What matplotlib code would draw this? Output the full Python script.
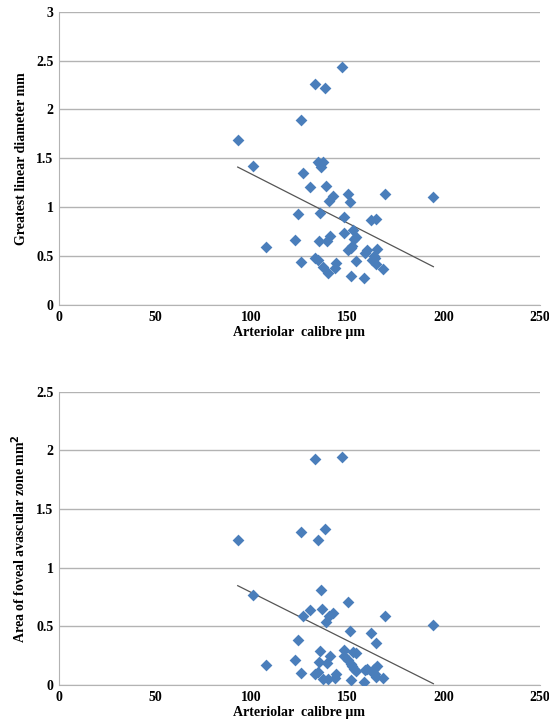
import numpy as np
import matplotlib.pyplot as plt
from matplotlib.ticker import FuncFormatter

# arteriolar calibre (um), same patients in both panels
calibre = [92.9, 100.9, 107.7, 122.8, 124.1, 125.9, 125.9, 126.8, 130.3, 133.2,
           133.2, 134.7, 135.0, 134.8, 135.9, 136.3, 135.7, 137.0, 137.2, 138.1,
           138.8, 139.2, 139.9, 140.5, 140.7, 142.3, 143.6, 143.9, 147.0, 148.0,
           148.3, 150.0, 150.0, 151.1, 151.6, 152.0, 152.3, 152.9, 153.4, 154.5,
           154.5, 158.7, 159.1, 160.0, 162.2, 162.7, 163.6, 164.0, 164.7, 164.7,
           165.1, 168.4, 169.5, 194.6]

diameter = [1.69, 1.42, 0.59, 0.66, 0.93, 1.89, 0.44, 1.35, 1.21, 2.26,
            0.48, 0.46, 0.65, 1.46, 1.44, 1.41, 0.94, 1.46, 0.39, 2.22,
            1.22, 0.65, 0.33, 1.06, 0.71, 1.11, 0.38, 0.43, 2.43, 0.90,
            0.74, 1.14, 0.56, 1.05, 0.58, 0.30, 0.60, 0.77, 0.68, 0.70,
            0.45, 0.28, 0.53, 0.56, 0.87, 0.46, 0.50, 0.48, 0.88, 0.42,
            0.57, 0.37, 1.14, 1.10]

area_calibre = [92.9, 100.9, 107.7, 122.8, 124.1, 125.9, 125.9, 126.8, 130.3, 133.2,
                133.2, 134.7, 135.0, 134.8, 135.9, 136.3, 136.6, 137.2, 138.1, 138.8,
                139.2, 139.9, 140.5, 140.7, 142.3, 143.6, 143.9, 147.0, 148.0, 148.3,
                150.0, 150.0, 151.1, 151.6, 152.0, 152.3, 152.9, 153.4, 154.5, 154.5,
                158.7, 159.1, 160.0, 162.2, 162.7, 163.6, 164.0, 164.7, 164.7, 165.1,
                168.4, 169.5, 194.6]

area = [1.24, 0.77, 0.17, 0.21, 0.38, 1.30, 0.10, 0.59, 0.64, 1.93,
        0.09, 0.11, 0.20, 1.24, 0.29, 0.81, 0.65, 0.05, 1.33, 0.54,
        0.19, 0.05, 0.59, 0.25, 0.61, 0.06, 0.09, 1.94, 0.30, 0.25,
        0.71, 0.21, 0.46, 0.18, 0.04, 0.16, 0.28, 0.14, 0.27, 0.12,
        0.03, 0.13, 0.14, 0.44, 0.11, 0.14, 0.09, 0.36, 0.07, 0.16,
        0.06, 0.59, 0.51]

plt.rcParams['font.family'] = ['Liberation Serif', 'DejaVu Serif']

fig = plt.figure(figsize=(5.49, 7.28), dpi=100)
ax1 = fig.add_axes([0.1075, 0.581, 0.876, 0.403])
ax2 = fig.add_axes([0.1075, 0.059, 0.876, 0.403])

blue = '#4a7ebb'
fmt = FuncFormatter(lambda v, p: '{:g}'.format(v))

def panel(ax, x, y, ymax, ylabel):
    ax.scatter(x, y, marker='D', s=36, color=blue, zorder=3, linewidths=0)
    # linear trendline
    k, b = np.polyfit(x, y, 1)
    xs = np.array([min(x), max(x)])
    ax.plot(xs, k * xs + b, color='#555555', linewidth=0.9, zorder=2)
    ax.set_xlim(0, 250)
    ax.set_ylim(0, ymax)
    ax.set_xticks(range(0, 251, 50))
    ax.set_yticks(np.arange(0, ymax + 0.01, 0.5))
    ax.xaxis.set_major_formatter(fmt)
    ax.yaxis.set_major_formatter(fmt)
    ax.grid(axis='y', color='#b3b3b3', linewidth=1)
    ax.set_axisbelow(True)
    for s in ['top', 'right']:
        ax.spines[s].set_visible(False)
    for s in ['left', 'bottom']:
        ax.spines[s].set_color('#b3b3b3')
    ax.tick_params(length=0, labelsize=10, pad=4)
    for lab in ax.get_xticklabels() + ax.get_yticklabels():
        lab.set_fontweight('bold')
    ax.set_xlabel('Arteriolar  calibre µm', fontsize=10, fontweight='bold', labelpad=2)
    ax.set_ylabel(ylabel, fontsize=10, fontweight='bold', labelpad=6)

panel(ax1, calibre, diameter, 3, 'Greatest linear diameter mm')
panel(ax2, area_calibre, area, 2.5, 'Area of foveal avascular zone mm$^\\mathbf{2}$')

fig.savefig('out.png', dpi=100)
